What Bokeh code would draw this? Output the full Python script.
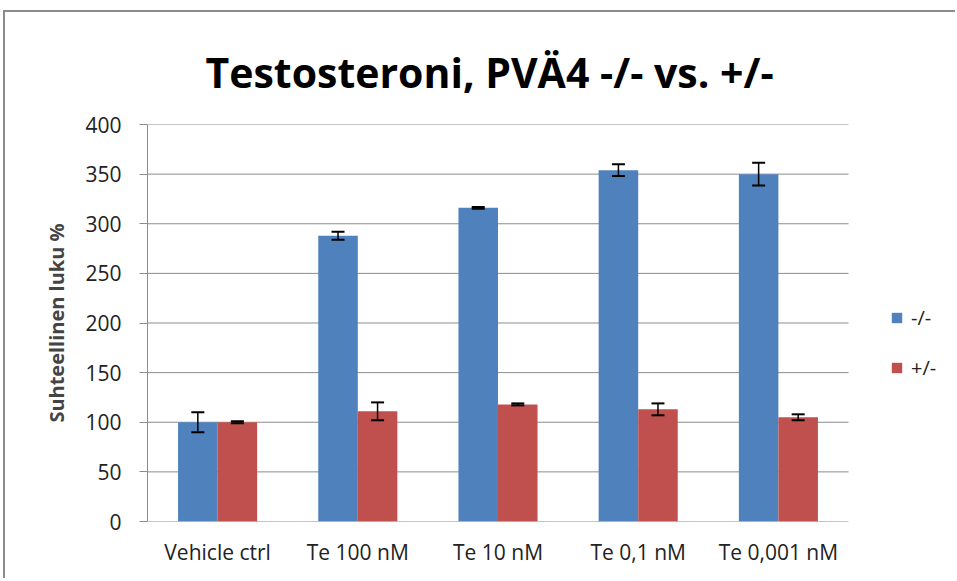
from bokeh.plotting import figure
from bokeh.models import (ColumnDataSource, Whisker, TeeHead, Legend, LegendItem,
                          Range1d, FixedTicker)
from bokeh.embed import file_html
from bokeh.resources import INLINE

categories = ["Vehicle ctrl", "Te 100 nM", "Te 10 nM", "Te 0,1 nM", "Te 0,001 nM"]
series_names = ["-/-", "+/-"]
values_neg = [100, 288, 316, 354, 350]
err_neg = [10, 4, 1, 6, 11.5]
values_pos = [100, 111, 118, 113, 105]
err_pos = [1, 9, 1, 6, 3]
y_ticks = [0, 50, 100, 150, 200, 250, 300, 350, 400]

BLUE = "#4F81BD"
RED = "#C0504D"
GRID = "#8C8C8C"
FONT = "Open Sans"

# layout (page pixels)
W, H = 952, 568
OFF_X, OFF_Y = 5, 12          # margin + border of the figure element
FRAME_L, FRAME_T, FRAME_B, CAT_R = 147, 124, 521, 848
frame_w = (OFF_X + W) - FRAME_L
n = len(categories)
x_end = n * frame_w / (CAT_R - FRAME_L)

bw = 0.282
off = 0.141
centers = [i + 0.5 for i in range(n)]

src = ColumnDataSource(dict(
    xc=centers,
    xn=[c - off for c in centers],
    xp=[c + off for c in centers],
    neg=values_neg,
    neg_lo=[v - e for v, e in zip(values_neg, err_neg)],
    neg_hi=[v + e for v, e in zip(values_neg, err_neg)],
    pos=values_pos,
    pos_lo=[v - e for v, e in zip(values_pos, err_pos)],
    pos_hi=[v + e for v, e in zip(values_pos, err_pos)],
))

p = figure(width=W, height=H, output_backend="svg", toolbar_location=None,
           x_range=Range1d(0, x_end), y_range=Range1d(0, 400),
           title="Testosteroni, PVÄ4 -/- vs. +/-")

p.min_border_left = FRAME_L - OFF_X
p.min_border_right = 0
p.min_border_top = FRAME_T - OFF_Y
p.min_border_bottom = (OFF_Y + H) - FRAME_B
p.outline_line_color = None
p.background_fill_color = "white"
p.border_fill_color = "white"
p.styles = {"margin-left": "3px", "margin-top": "10px",
            "border-left": "2px solid #8C8C8C", "border-top": "2px solid #8C8C8C"}

p.title.text_font = FONT
p.title.text_font_size = "41px"
p.title.text_font_style = "bold"
p.title.align = "left"
p.title.offset = 58
p.title.text_color = "black"
p.title.standoff = 50

# gridlines over the category area only
p.xgrid.grid_line_color = None
p.ygrid.grid_line_color = None
p.segment(x0=0, x1=n, y0=y_ticks, y1=y_ticks, line_color=GRID, line_width=1)

r1 = p.vbar(x="xn", top="neg", width=bw, source=src, fill_color=BLUE, line_color=None)
r2 = p.vbar(x="xp", top="pos", width=bw, source=src, fill_color=RED, line_color=None)

for xcol, lo, hi in [("xn", "neg_lo", "neg_hi"), ("xp", "pos_lo", "pos_hi")]:
    w = Whisker(base=xcol, lower=lo, upper=hi, source=src,
                line_color="black", line_width=1.5, level="overlay",
                upper_head=TeeHead(size=13, line_color="black", line_width=2),
                lower_head=TeeHead(size=13, line_color="black", line_width=2))
    p.add_layout(w)

p.yaxis.ticker = y_ticks
p.yaxis.axis_label = "Suhteellinen luku %"
p.yaxis.axis_label_text_font = FONT
p.yaxis.axis_label_text_font_style = "bold"
p.yaxis.axis_label_text_font_size = "20px"
p.yaxis.axis_label_standoff = 12
p.yaxis.major_label_text_font = FONT
p.yaxis.major_label_text_font_size = "21px"
p.yaxis.major_label_text_color = "#222222"
p.yaxis.major_label_standoff = 18
p.yaxis.axis_line_color = GRID
p.yaxis.major_tick_line_color = GRID
p.yaxis.major_tick_out = 8
p.yaxis.major_tick_in = 0
p.yaxis.minor_tick_line_color = None

p.xaxis.ticker = FixedTicker(ticks=centers)
p.xaxis.major_label_overrides = {c: lab for c, lab in zip(centers, categories)}
p.xaxis.major_label_text_font = FONT
p.xaxis.major_label_text_font_size = "21px"
p.xaxis.major_label_text_color = "#222222"
p.xaxis.major_label_standoff = 10
p.xaxis.axis_line_color = None
p.xaxis.major_tick_line_color = None
p.xaxis.minor_tick_line_color = None

legend = Legend(items=[LegendItem(label=series_names[0], renderers=[r1]),
                       LegendItem(label=series_names[1], renderers=[r2])],
                location=(890 - FRAME_L, 140), orientation="vertical",
                padding=0, margin=0, border_line_color=None,
                background_fill_alpha=0,
                glyph_width=13, glyph_height=13, label_standoff=8,
                spacing=23, label_text_font=FONT, label_text_font_size="20px",
                label_text_color="#222222")
p.add_layout(legend, "center")

open("out.html", "w").write(file_html(p, INLINE))
